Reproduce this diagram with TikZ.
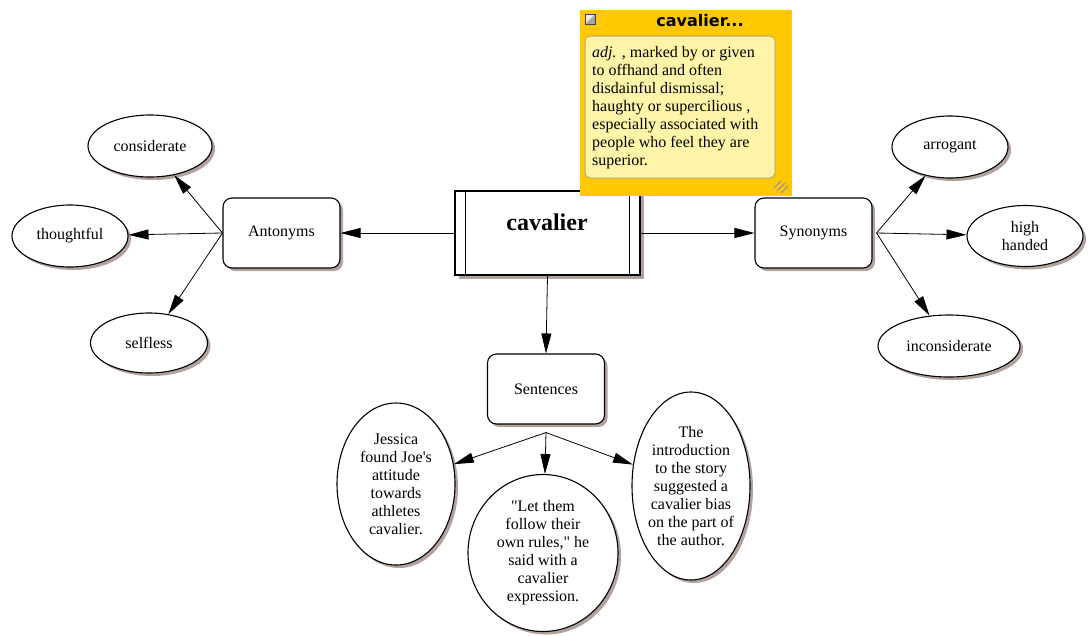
\documentclass[tikz,border=0pt]{standalone}
\usepackage{fontspec}
\setmainfont{Liberation Serif}[Ligatures=TeXOff]
\newfontfamily\notetitlefont{DejaVu Sans}
\usetikzlibrary{arrows.meta,shapes.geometric,shadows}

\definecolor{shd}{RGB}{178,162,158}
\definecolor{noteyellow}{RGB}{255,200,0}
\definecolor{notepale}{RGB}{255,244,168}
\definecolor{noteedge}{RGB}{185,170,120}

\tikzset{
  base/.style={draw=black, line width=1.1pt, fill=white, align=center,
    font=\fontsize{16}{18}\selectfont},
  shadowed/.style={drop shadow={shadow xshift=3pt, shadow yshift=-3pt, fill=shd, opacity=1}},
  rbox/.style={base, shadowed, rectangle, rounded corners=9pt,
    minimum width=117pt, minimum height=70pt, inner sep=0pt},
  oval/.style={base, shadowed, ellipse, inner sep=0pt},
  etext/.style={font=\fontsize{16}{18}\selectfont, align=center, inner sep=0pt},
  link/.style={line width=0.8pt, -{Triangle[length=20pt,width=10pt]}},
}

\begin{document}
\begin{tikzpicture}[x=1pt,y=-1pt]
\useasboundingbox (0,0) rectangle (1089,635);
\fill[white] (0,0) rectangle (1089,635);

% central term
\node[base, rectangle, minimum width=185pt, minimum height=84pt, inner sep=0pt,
  drop shadow={shadow xshift=4pt, shadow yshift=-4pt, fill=shd, opacity=1}] (main) at (547.5,233) {};
\draw[line width=1.1pt] ([xshift=11pt]main.north west) -- ([xshift=11pt]main.south west);
\draw[line width=1.1pt] ([xshift=-11pt]main.north east) -- ([xshift=-11pt]main.south east);
\node[font=\bfseries\fontsize{24}{26}\selectfont] (maintext) at (547,222) {cavalier};

% category boxes
\node[rbox] (ant) at (281.5,233) {Antonyms};
\node[rbox] (syn) at (813.5,233) {Synonyms};
\node[rbox] (sent) at (546,389) {Sentences};

% antonyms
\node[oval, minimum width=124pt, minimum height=62pt] (cons) at (150,146) {considerate};
\node[oval, minimum width=116pt, minimum height=62pt] (thou) at (70,236) {thoughtful};
\node[oval, minimum width=117pt, minimum height=60pt] (self) at (149,343) {selfless};

% synonyms
\node[oval, minimum width=116pt, minimum height=62pt] (arr) at (950,147) {arrogant};
\node[oval, minimum width=116pt, minimum height=61pt] (hh) at (1025,236) {high\\handed};
\node[oval, minimum width=142pt, minimum height=62pt] (incons) at (949,346) {inconsiderate};

% example sentences
\node[oval, minimum width=118pt, minimum height=162pt] (jess) at (396,484) {};
\node[etext] (jess-t) at (jess) {Jessica\\found Joe's\\attitude\\towards\\athletes\\cavalier.};
\node[oval, minimum width=150pt, minimum height=157pt] (let) at (543,553) {};
\node[etext] (let-t) at (let) {"Let them\\follow their\\own rules," he\\said with a\\cavalier\\expression.};
\node[oval, minimum width=118pt, minimum height=188pt] (intro) at (691,486) {};
\node[etext] (intro-t) at (intro) {The\\introduction\\to the story\\suggested a\\cavalier bias\\on the part of\\the author.};

% connectors
\draw[link] (main) -- (ant);
\draw[link] (main) -- (syn);
\draw[link] (main.south) -- (sent.north);

\draw[link] (ant.west) -- (cons);
\draw[link] (ant.west) -- (thou);
\draw[link] (ant.west) -- (self);

\coordinate (synout) at ([xshift=4pt]syn.east);
\draw[link] (synout) -- (arr);
\draw[link] (synout) -- (hh);
\draw[link] (synout) -- (incons);

\coordinate (sentout) at ([yshift=-8pt]sent.south);
\draw[link] (sentout) -- (jess);
\draw[link] (sentout) -- (let);
\draw[link] (sentout) -- (intro);

% definition note
\node[fill=noteyellow, minimum width=212pt, minimum height=186pt, inner sep=0pt] (note) at (686,103) {};
\node[draw=noteedge, line width=1pt, fill=notepale, rounded corners=5pt,
  minimum width=190pt, minimum height=142pt, inner sep=0pt] (notebody) at (680,107) {};
\node[font=\notetitlefont\bfseries\fontsize{16}{18}\selectfont] (notetitle) at (700,21) {cavalier...};
\node[anchor=north west, align=left, inner sep=0pt, font=\fontsize{16}{18}\selectfont]
  (notetext) at (592,46) {\textit{adj.} , marked by or given\\to offhand and often\\disdainful dismissal;\\haughty or supercilious ,\\especially associated with\\people who feel they are\\superior.};

% close box icon
\fill[gray!70] (585,14) rectangle (595,24);
\fill[white!85!gray] (585,14) -- (595,14) -- (585,24) -- cycle;
\draw[black!75, line width=0.8pt] (585,14) rectangle (595,24);

% resize grip
\draw[gray!80, line width=1.1pt] (774,188) -- (781,181);
\draw[gray!80, line width=1.1pt] (777,191) -- (785,183);
\draw[gray!80, line width=1.1pt] (781,193) -- (788,186);
\end{tikzpicture}
\end{document}
